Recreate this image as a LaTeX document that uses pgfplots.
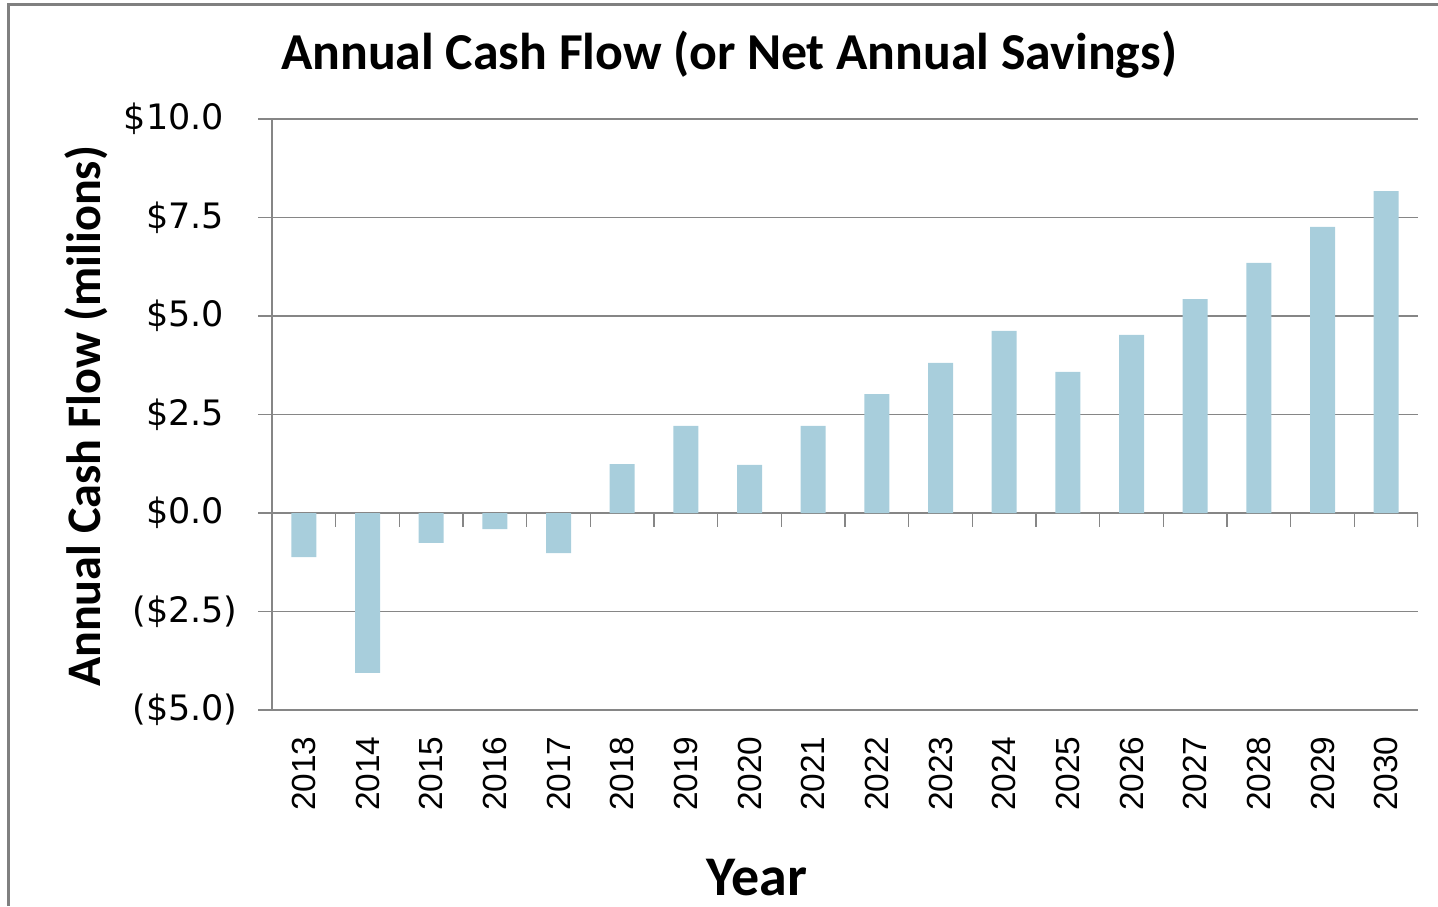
\documentclass[border=0pt]{standalone}
\usepackage{fontspec}
\setmainfont{Carlito}
\newfontfamily\dejavu{DejaVu Sans}
\newfontfamily\libsans{Liberation Sans}
\usepackage{pgfplots}
\pgfplotsset{compat=1.18}
\definecolor{barblue}{RGB}{168,206,220}
\definecolor{gridgray}{RGB}{134,134,134}
\definecolor{framegray}{RGB}{128,128,128}
\begin{document}
\begin{tikzpicture}
\path[use as bounding box] (0,0) rectangle (719pt,453pt);
\draw[framegray, line width=1.5pt] (4.3pt,0) -- (4.3pt,450.5pt) -- (719pt,450.5pt);
\begin{axis}[
  at={(136pt,98pt)}, anchor=south west,
  scale only axis, width=573pt, height=295.5pt,
  xmin=-0.5, xmax=17.5, ymin=-5, ymax=10,
  axis x line*=bottom, axis y line*=left,
  axis line style={-, draw=gridgray, line width=0.75pt},
  ytick={-5,-2.5,0,2.5,5,7.5,10},
  yticklabels={(\$5.0),(\$2.5),\$0.0\phantom{)},\$2.5\phantom{)},\$5.0\phantom{)},\$7.5\phantom{)},\$10.0\phantom{)}},
  ymajorgrids, major grid style={gridgray, line width=0.75pt},
  tick align=outside, major tick length=7pt,
  ytick style={gridgray, line width=0.75pt},
  xtick={0,...,17},
  xticklabels={2013,2014,2015,2016,2017,2018,2019,2020,2021,2022,2023,2024,2025,2026,2027,2028,2029,2030},
  xtick style={draw=none},
  yticklabel style={font=\dejavu\fontsize{17.5}{20}\selectfont, anchor=east, inner sep=0pt, xshift=-10pt},
  xticklabel style={font=\libsans\fontsize{16.7}{19}\selectfont, rotate=90, anchor=east, inner sep=0pt, xshift=-6pt},
]
\addplot[ybar, bar width=12.5pt, fill=barblue, draw=none] coordinates {
  (0,-1.12) (1,-4.06) (2,-0.76) (3,-0.41) (4,-1.02) (5,1.24) (6,2.21) (7,1.22) (8,2.21)
  (9,3.02) (10,3.81) (11,4.62) (12,3.58) (13,4.52) (14,5.43) (15,6.35) (16,7.26) (17,8.17)};
\pgfplotsinvokeforeach{0.5,1.5,...,17.5}{
  \draw[gridgray, line width=0.75pt] (axis cs:#1,0) -- ([yshift=-7pt]axis cs:#1,0);
}
\end{axis}
\node[anchor=base, font=\bfseries\fontsize{25.9}{30}\selectfont] at (364.5pt,418pt) {Annual Cash Flow (or Net Annual Savings)};
\node[rotate=90, anchor=base, font=\bfseries\fontsize{24.1}{28}\selectfont] at (50pt,244.75pt) {Annual Cash Flow (milions)};
\node[anchor=base, font=\bfseries\fontsize{28}{32}\selectfont] at (378.5pt,5.5pt) {Year};
\end{tikzpicture}
\end{document}
